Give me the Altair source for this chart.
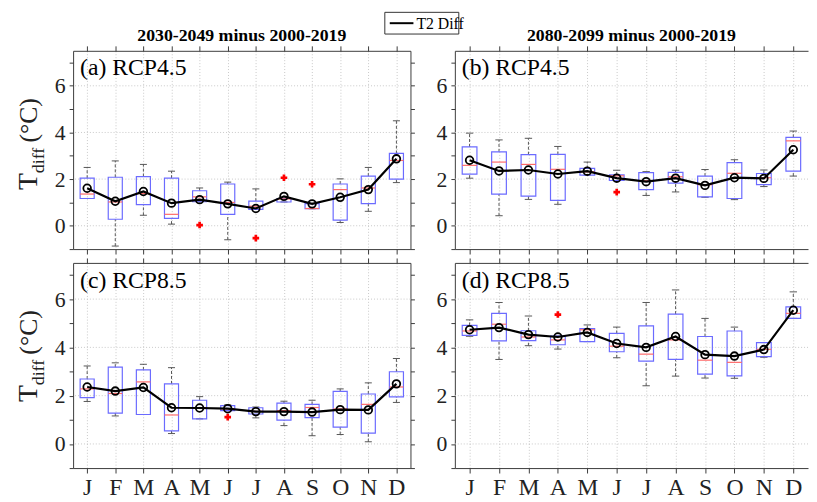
import altair as alt
import pandas as pd

months = list(range(1, 13))
month_letters = ["J", "F", "M", "A", "M", "J", "J", "A", "S", "O", "N", "D"]
y_ticks = [-1, 0, 1, 2, 3, 4, 5, 6, 7]
y_grid = [0, 2, 4, 6]

# ---- (a) RCP4.5, 2030-2049 minus 2000-2019
a_whi = [2.50, 2.78, 2.63, 2.34, 1.62, 1.87, 1.58, 1.17, 0.95, 2.01, 2.50, 4.50]
a_q3 = [2.04, 2.08, 2.11, 2.04, 1.50, 1.79, 1.06, 1.17, 0.95, 1.79, 2.13, 3.10]
a_med = [1.36, 1.02, 1.38, 0.49, 1.24, 1.00, 0.84, 1.15, 0.74, 1.55, 1.62, 2.80]
a_q1 = [1.17, 0.28, 0.91, 0.32, 1.03, 0.49, 0.70, 1.02, 0.73, 0.24, 0.95, 2.00]
a_wlo = [1.17, -0.87, 0.45, 0.07, 1.03, -0.60, 0.70, 1.02, 0.73, 0.14, 0.62, 1.85]
a_mean = [1.61, 1.05, 1.47, 0.97, 1.12, 0.94, 0.74, 1.26, 0.94, 1.22, 1.55, 2.87]
a_out_m = [5, 7, 8, 9]
a_out_v = [0.03, -0.53, 2.06, 1.78]

# ---- (b) RCP4.5, 2080-2099 minus 2000-2019
b_whi = [3.97, 3.68, 3.75, 3.40, 2.73, 2.38, 2.32, 2.38, 2.41, 2.83, 2.39, 4.06]
b_q3 = [3.38, 3.17, 3.05, 3.06, 2.46, 2.18, 2.28, 2.29, 2.13, 2.71, 2.24, 3.79]
b_med = [2.59, 2.73, 2.63, 2.42, 2.31, 2.14, 1.93, 2.10, 1.76, 2.25, 2.06, 3.64]
b_q1 = [2.21, 1.36, 1.27, 1.09, 2.17, 1.94, 1.55, 1.83, 1.24, 1.17, 1.76, 2.34]
b_wlo = [2.04, 0.43, 1.13, 0.92, 2.17, 1.94, 1.30, 1.45, 1.22, 1.12, 1.68, 2.13]
b_mean = [2.81, 2.35, 2.39, 2.22, 2.34, 2.04, 1.89, 2.04, 1.73, 2.06, 2.03, 3.26]
b_out_m = [6]
b_out_v = [1.44]

# ---- (c) RCP8.5, 2030-2049 minus 2000-2019
c_whi = [3.23, 3.36, 3.30, 3.16, 1.96, 1.62, 1.53, 1.77, 1.81, 2.28, 2.53, 3.54]
c_q3 = [2.69, 3.18, 3.07, 2.49, 1.81, 1.59, 1.50, 1.69, 1.64, 2.18, 2.07, 2.99]
c_med = [2.28, 2.09, 2.57, 1.20, 1.50, 1.45, 1.35, 1.38, 1.51, 1.45, 1.64, 2.36]
c_q1 = [1.92, 1.28, 1.22, 0.54, 1.04, 1.38, 1.24, 0.99, 1.09, 0.70, 0.45, 1.95]
c_wlo = [1.76, 1.16, 1.22, 0.43, 1.04, 1.38, 1.08, 0.76, 0.34, 0.39, 0.09, 1.72]
c_mean = [2.36, 2.19, 2.34, 1.50, 1.49, 1.46, 1.34, 1.34, 1.32, 1.42, 1.41, 2.49]
c_out_m = [6]
c_out_v = [1.11]

# ---- (d) RCP8.5, 2080-2099 minus 2000-2019
d_whi = [5.14, 5.86, 5.30, 4.47, 4.93, 4.84, 5.86, 6.38, 5.20, 4.84, 4.20, 6.30]
d_q3 = [4.91, 5.41, 4.69, 4.47, 4.78, 4.58, 4.89, 5.38, 4.45, 4.68, 4.20, 5.68]
d_med = [4.68, 4.96, 4.43, 4.31, 4.73, 4.05, 3.72, 4.31, 3.47, 3.38, 3.92, 5.41]
d_q1 = [4.50, 4.27, 4.28, 4.11, 4.24, 3.82, 3.43, 3.50, 2.89, 2.82, 3.62, 5.20]
d_wlo = [4.46, 3.50, 4.07, 3.93, 4.24, 3.57, 2.41, 2.81, 2.73, 2.72, 3.59, 5.20]
d_mean = [4.73, 4.82, 4.53, 4.43, 4.62, 4.16, 4.00, 4.45, 3.70, 3.64, 3.91, 5.54]
d_out_m = [4]
d_out_v = [5.36]

col_titles = ["2030-2049 minus 2000-2019", "2080-2099 minus 2000-2019"]
panel_labels = ["(a) RCP4.5", "(b) RCP4.5", "(c) RCP8.5", "(d) RCP8.5"]
legend_label = "T2 Diff"

FONT = "Liberation Serif"
FRAME = "#3a3a3a"
GRID = "#c8c8c8"
BOXC = "#6b6bff"
MEDC = "#ff6a6a"
WHC = "#555555"

label_expr = "[" + ",".join("'%s'" % s for s in month_letters) + "][datum.value - 1]"


def one(txt):
    return alt.Chart(pd.DataFrame({"t": [txt]}))


def make_panel(label, whi, q3, med, q1, wlo, mean, out_m, out_v, w, h,
               bottom, left, title, legend, right_axis):
    df = pd.DataFrame({"m": months, "whi": whi, "q3": q3, "med": med,
                       "q1": q1, "wlo": wlo, "mean": mean})
    base = alt.Chart(df).transform_calculate(
        lo="datum.m - 0.25", hi="datum.m + 0.25",
        clo="datum.m - 0.125", chi="datum.m + 0.125")
    xs = alt.Scale(domain=[0.5, 12.5], nice=False, zero=False)
    ys = alt.Scale(domain=[-1, 7.5], nice=False, zero=False)

    xaxis = alt.Axis(values=months, labelExpr=label_expr, labels=bottom,
                     tickSize=5, tickColor=FRAME, domainColor=FRAME,
                     grid=True, gridDash=[1, 2], gridColor=GRID,
                     labelFontSize=24, labelPadding=3, labelColor="#222",
                     labelFont=FONT, title=None)
    yaxis = alt.Axis(values=y_ticks,
                     labelExpr="datum.value >= 0 && datum.value % 2 == 0 ? datum.value : ''",
                     tickSize=4, tickColor=FRAME, domainColor=FRAME, grid=False,
                     labelFontSize=22, labelPadding=4, labelColor="#222",
                     labelFont=FONT, title=None)
    axes = base.mark_point(opacity=0).encode(
        x=alt.X("m:Q", scale=xs, axis=xaxis),
        y=alt.Y("mean:Q", scale=ys, axis=yaxis))
    top_axis = alt.Axis(orient="top", values=months, labels=False, tickSize=5,
                        tickColor=FRAME, domainColor=FRAME, grid=False, title=None)
    if right_axis:
        right = alt.Axis(orient="right", values=y_ticks, labels=False, tickSize=4,
                         tickColor=FRAME, domainColor=FRAME, grid=False, title=None)
    else:
        right = None
    mirror = base.mark_point(opacity=0).encode(
        x=alt.X("m:Q", scale=xs, axis=top_axis),
        y=alt.Y("mean:Q", scale=ys, axis=right))

    gy = alt.Chart(pd.DataFrame({"g": y_grid})).mark_rule(
        color=GRID, strokeDash=[1, 2], strokeWidth=1).encode(
        y=alt.Y("g:Q", scale=ys, axis=None))

    X = lambda f: alt.X(f, scale=xs, axis=None)
    Y = lambda f: alt.Y(f, scale=ys, axis=None)

    wh_up = base.mark_rule(color=WHC, strokeDash=[3, 2], strokeWidth=1).encode(
        x=X("m:Q"), y=Y("q3:Q"), y2="whi:Q")
    wh_dn = base.mark_rule(color=WHC, strokeDash=[3, 2], strokeWidth=1).encode(
        x=X("m:Q"), y=Y("wlo:Q"), y2="q1:Q")
    cap_up = base.mark_rule(color=WHC, strokeWidth=1).encode(
        x=X("clo:Q"), x2="chi:Q", y=Y("whi:Q"))
    cap_dn = base.mark_rule(color=WHC, strokeWidth=1).encode(
        x=X("clo:Q"), x2="chi:Q", y=Y("wlo:Q"))
    box = base.mark_rect(fillOpacity=0, stroke=BOXC, strokeWidth=1.2).encode(
        x=X("lo:Q"), x2="hi:Q", y=Y("q1:Q"), y2="q3:Q")
    medl = base.mark_rule(color=MEDC, strokeWidth=1.2).encode(
        x=X("lo:Q"), x2="hi:Q", y=Y("med:Q"))
    outl = alt.Chart(pd.DataFrame({"m": out_m, "v": out_v})).mark_point(
        shape="cross", filled=True, color="#ff0000", size=45, opacity=1).encode(
        x=X("m:Q"), y=Y("v:Q"))
    line = base.mark_line(color="black", strokeWidth=2.2).encode(
        x=X("m:Q"), y=Y("mean:Q"))
    dots = base.mark_point(shape="circle", filled=False, color="black",
                           strokeWidth=1.8, size=60, opacity=1).encode(
        x=X("m:Q"), y=Y("mean:Q"))

    plab = one(label).mark_text(align="left", baseline="alphabetic", font=FONT,
                                fontSize=24, color="black").encode(
        x=alt.value(7), y=alt.value(25), text="t:N")

    layers = [axes, mirror, gy, wh_up, wh_dn, cap_up, cap_dn, box, medl, outl,
              line, dots, plab]

    if title:
        layers.append(one(title).mark_text(align="center", baseline="alphabetic",
                                           font=FONT, fontSize=18, fontWeight="bold",
                                           color="black").encode(
            x=alt.value(w / 2), y=alt.value(-10), text="t:N"))
    if left:
        layers.append(one("T").mark_text(angle=270, align="left", baseline="alphabetic",
                                         font=FONT, fontSize=28, color="#222").encode(
            x=alt.value(-37), y=alt.value(141), text="t:N"))
        layers.append(one("diff").mark_text(angle=270, align="left", baseline="alphabetic",
                                            font=FONT, fontSize=18, color="#222").encode(
            x=alt.value(-30), y=alt.value(124), text="t:N"))
        layers.append(one("(°C)").mark_text(angle=270, align="left", baseline="alphabetic",
                                            font=FONT, fontSize=26, color="#222").encode(
            x=alt.value(-37), y=alt.value(93), text="t:N"))
    if legend:
        layers.append(one(legend).mark_rect(fill="white", stroke="#333",
                                            strokeWidth=1).encode(
            x=alt.value(316), x2=alt.value(391), y=alt.value(-39), y2=alt.value(-17)))
        layers.append(one(legend).mark_rule(color="black", strokeWidth=2).encode(
            x=alt.value(321), x2=alt.value(345), y=alt.value(-28)))
        layers.append(one(legend).mark_text(align="left", baseline="middle", font=FONT,
                                            fontSize=16, color="black").encode(
            x=alt.value(348), y=alt.value(-27), text="t:N"))

    return alt.layer(*layers).resolve_axis(x="independent", y="independent").properties(
        width=w, height=h)


pa = make_panel(panel_labels[0], a_whi, a_q3, a_med, a_q1, a_wlo, a_mean, a_out_m, a_out_v,
                342, 201, False, True, col_titles[0], legend_label, True)
pb = make_panel(panel_labels[1], b_whi, b_q3, b_med, b_q1, b_wlo, b_mean, b_out_m, b_out_v,
                358, 201, False, False, col_titles[1], None, False)
pc = make_panel(panel_labels[2], c_whi, c_q3, c_med, c_q1, c_wlo, c_mean, c_out_m, c_out_v,
                342, 208, True, True, None, None, True)
pd_ = make_panel(panel_labels[3], d_whi, d_q3, d_med, d_q1, d_wlo, d_mean, d_out_m, d_out_v,
                 358, 208, True, False, None, None, False)

chart = alt.concat(pa, pb, pc, pd_, columns=2, spacing={"row": 14, "column": 45},
                   bounds="flush").properties(
    padding={"left": 7, "top": 0, "right": 0, "bottom": 0}
).configure(font=FONT).configure_view(stroke=None)

chart.save("out.html", embed_options={"renderer": "svg", "actions": False})
